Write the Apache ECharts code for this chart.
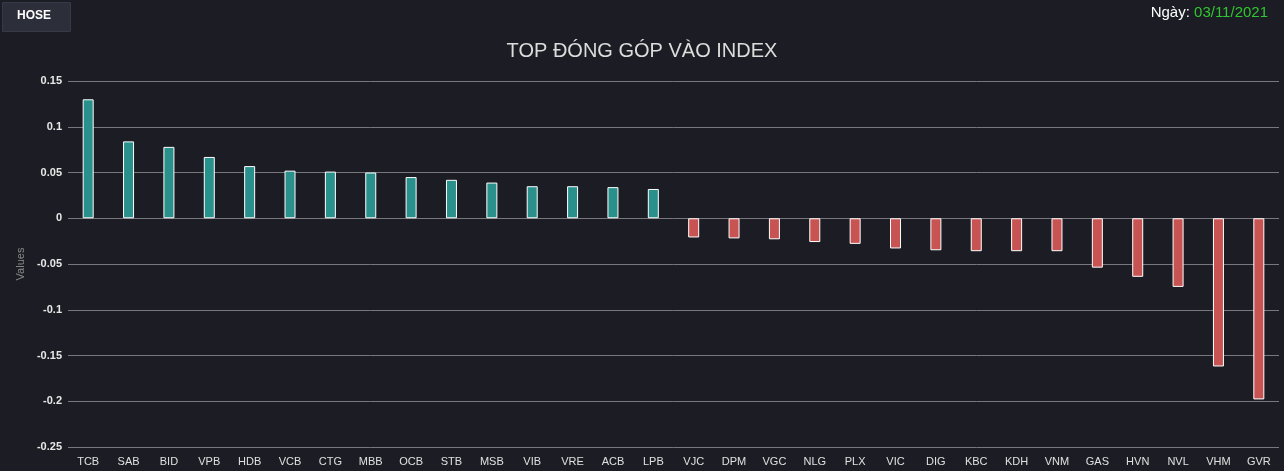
<!DOCTYPE html>
<html>
<head>
<meta charset="utf-8">
<script src="https://cdn.jsdelivr.net/npm/echarts@6/dist/echarts.min.js"></script>
<style>
html,body{margin:0;padding:0;background:#1c1c24;}
#c{width:1284px;height:471px;}
</style>
</head>
<body>
<div id="c"></div>
<script>
const categories = ['TCB','SAB','BID','VPB','HDB','VCB','CTG','MBB','OCB','STB','MSB','VIB','VRE','ACB','LPB','VJC','DPM','VGC','NLG','PLX','VIC','DIG','KBC','KDH','VNM','GAS','HVN','NVL','VHM','GVR'];
const values = [0.130,0.084,0.078,0.067,0.057,0.052,0.051,0.050,0.045,0.042,0.039,0.035,0.035,0.034,0.032,-0.021,-0.022,-0.023,-0.026,-0.028,-0.033,-0.035,-0.036,-0.036,-0.036,-0.054,-0.064,-0.075,-0.162,-0.198];
const titleText = 'TOP ĐÓNG GÓP VÀO INDEX';
const exchange = 'HOSE';
const dateLabel = 'Ngày: ';
const dateValue = '03/11/2021';
const yAxisName = 'Values';

const chart = echarts.init(document.getElementById('c'));
chart.setOption({
  backgroundColor: '#1c1c24',
  animation: false,
  title: {
    text: titleText,
    left: 'center',
    top: 36,
    textStyle: {color: '#dcdcdc', fontSize: 20, fontWeight: 'normal', fontFamily: 'Liberation Sans, Arial, sans-serif'}
  },
  graphic: [
    {type: 'rect', left: 2, top: 2, shape: {width: 68, height: 29}, style: {fill: '#2c2f3a', stroke: '#363a46', lineWidth: 1}},
    {type: 'text', left: 17, top: 10, style: {text: exchange, fill: '#ffffff', font: 'bold 12px Liberation Sans, Arial, sans-serif'}},
    {type: 'text', right: 16, top: 5, style: {
      text: '{a|' + dateLabel + '}{b|' + dateValue + '}',
      rich: {
        a: {fill: '#ffffff', fontSize: 15, fontFamily: 'Liberation Sans, Arial, sans-serif'},
        b: {fill: '#2fc72f', fontSize: 15, fontFamily: 'Liberation Sans, Arial, sans-serif'}
      }
    }}
  ],
  grid: {left: 68, right: 5, top: 81, bottom: 24},
  xAxis: {
    type: 'category',
    data: categories,
    axisLine: {show: false},
    axisTick: {show: false},
    axisLabel: {color: '#e0e0e0', fontSize: 11, margin: 9, interval: 0, fontFamily: 'Liberation Sans, Arial, sans-serif'}
  },
  yAxis: {
    type: 'value',
    min: -0.25,
    max: 0.15,
    interval: 0.05,
    name: yAxisName,
    nameLocation: 'middle',
    nameGap: 42,
    nameTextStyle: {color: '#8a8a8a', fontSize: 11, fontFamily: 'Liberation Sans, Arial, sans-serif'},
    axisLine: {show: false},
    axisTick: {show: false},
    axisLabel: {
      color: '#e8e8e8', fontSize: 11, margin: 6, fontWeight: 'bold', fontFamily: 'Liberation Sans, Arial, sans-serif',
      formatter: v => String(parseFloat(v.toFixed(2)))
    },
    splitLine: {lineStyle: {color: '#77777d', width: 1}}
  },
  series: [{
    type: 'bar',
    data: values.map(v => ({
      value: v,
      itemStyle: {color: v >= 0 ? '#2a908c' : '#c85353', borderColor: '#ffffff', borderWidth: 1}
    })),
    barWidth: 11
  }]
});
</script>
</body>
</html>
